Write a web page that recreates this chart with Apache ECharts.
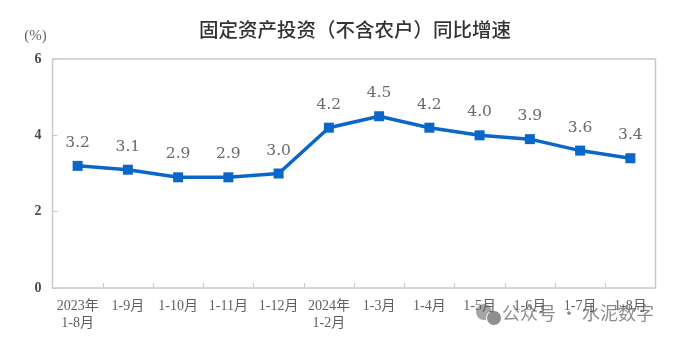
<!DOCTYPE html>
<html>
<head>
<meta charset="utf-8">
<style>
    html, body { margin: 0; padding: 0; background: #fff; }
    #Line-Chart { width: 688px; height: 353px; }
</style>
<script src="https://cdn.jsdelivr.net/npm/echarts@6/dist/echarts.min.js"></script>
</head>
<body>
<div id="Line-Chart"></div>
<script>
const categories = ['2023年\n1-8月', '1-9月', '1-10月', '1-11月', '1-12月', '2024年\n1-2月', '1-3月', '1-4月', '1-5月', '1-6月', '1-7月', '1-8月'];
const growthValues = [3.2, 3.1, 2.9, 2.9, 3.0, 4.2, 4.5, 4.2, 4.0, 3.9, 3.6, 3.4];
const yTicks = [0, 2, 4, 6];

const serifFont = '"Liberation Serif", "Noto Sans CJK SC", serif';

function drawLineChart() {
    var dom = document.getElementById('Line-Chart');
    var myChart = echarts.init(dom, null, { renderer: 'canvas' });
    var option = {
        animation: false,
        backgroundColor: '#fff',
        title: {
            text: '固定资产投资（不含农户）同比增速',
            left: 194,
            top: 15,
            textStyle: {
                color: '#333',
                fontSize: 19.5,
                fontWeight: 500,
                fontFamily: '"Noto Sans CJK SC", sans-serif'
            }
        },
        grid: {
            left: 52.5,
            right: 32.5,
            top: 59,
            bottom: 65,
            show: true,
            borderColor: '#c9c9c9',
            borderWidth: 1.5
        },
        xAxis: {
            type: 'category',
            data: categories,
            boundaryGap: true,
            axisLine: { show: false },
            axisTick: {
                show: true,
                inside: true,
                length: 5,
                alignWithLabel: false,
                lineStyle: { color: '#c9c9c9', width: 1 }
            },
            axisLabel: {
                interval: 0,
                margin: 10,
                color: '#5f5f5f',
                fontSize: 14,
                lineHeight: 17,
                fontFamily: serifFont
            }
        },
        yAxis: {
            type: 'value',
            min: 0,
            max: 6,
            interval: 2,
            name: '(%)',
            nameGap: 15,
            nameLocation: 'end',
            nameTextStyle: {
                color: '#666',
                fontSize: 15,
                fontFamily: serifFont,
                padding: [0, 34, 0, 0]
            },
            axisLine: { show: false },
            axisTick: {
                show: true,
                inside: true,
                length: 5,
                lineStyle: { color: '#c9c9c9', width: 1 }
            },
            splitLine: { show: false },
            axisLabel: {
                margin: 11,
                color: '#4a4a4a',
                fontSize: 14,
                fontWeight: 'bold',
                fontFamily: serifFont,
                formatter: function (v) { return yTicks.indexOf(v) >= 0 ? String(v) : ''; }
            }
        },
        series: [
            {
                type: 'line',
                data: growthValues,
                symbol: 'rect',
                symbolSize: 10,
                lineStyle: { color: '#0a66c8', width: 3.5 },
                itemStyle: { color: '#0a66c8' },
                label: {
                    show: true,
                    position: 'top',
                    distance: 10,
                    color: '#6a6a6a',
                    fontSize: 15.5,
                    fontFamily: '"DejaVu Serif", serif',
                    formatter: function (p) { return p.value.toFixed(1); }
                }
            }
        ],
        graphic: [
            { type: 'circle', shape: { cx: 484, cy: 312, r: 8 }, style: { fill: '#a6a6a6' } },
            { type: 'circle', shape: { cx: 494, cy: 318, r: 7.5 }, style: { fill: '#8f8f8f', stroke: '#fff', lineWidth: 1 } },
            {
                type: 'text',
                left: 502,
                top: 304,
                style: {
                    text: '公众号 · 水泥数字',
                    fill: 'rgba(120,120,120,0.85)',
                    fontSize: 18,
                    fontFamily: '"Noto Sans CJK SC", sans-serif'
                }
            }
        ]
    };

    if (option && typeof option === 'object') {
        myChart.setOption(option);
    }

    window.addEventListener('resize', myChart.resize);
}

drawLineChart();
</script>
</body>
</html>
